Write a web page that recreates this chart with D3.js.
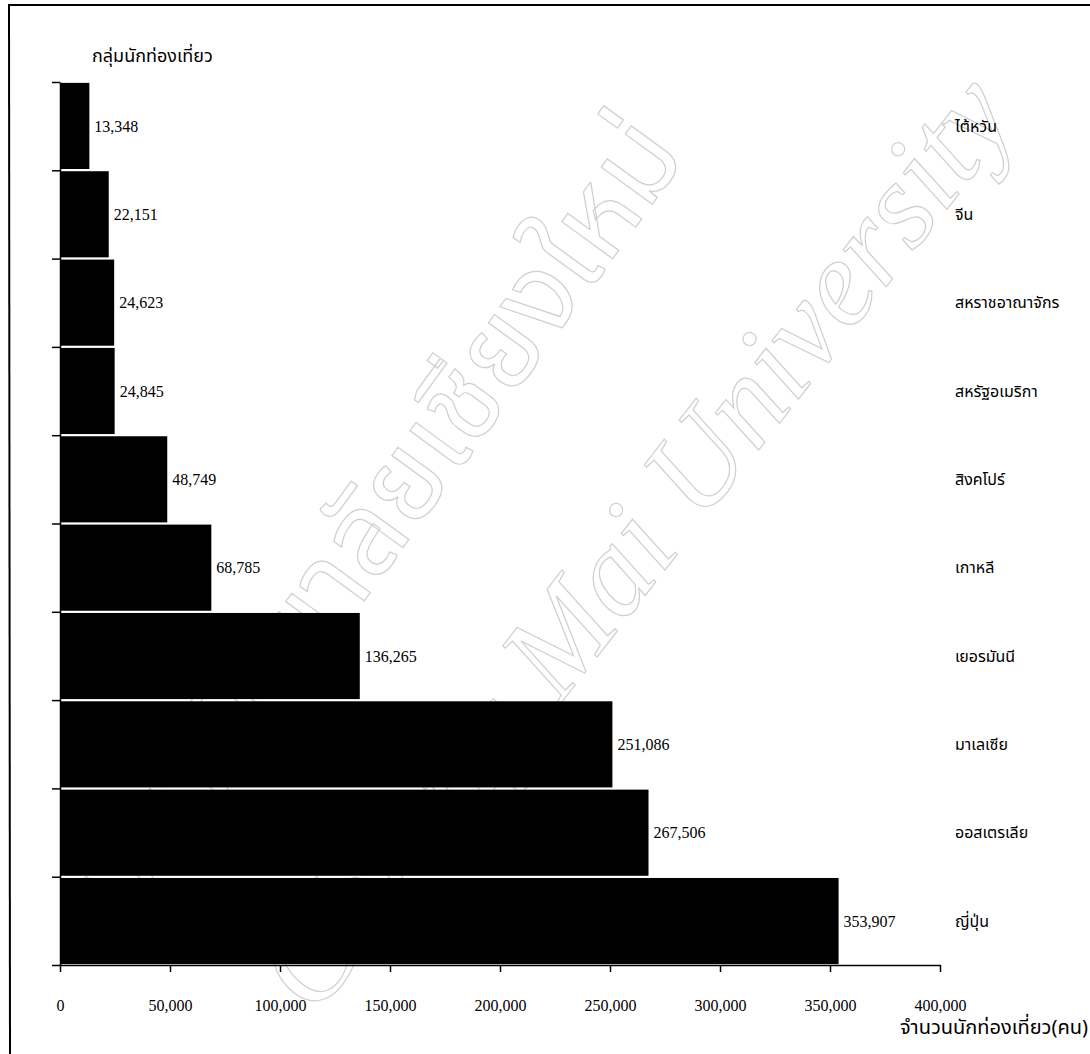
<!DOCTYPE html>
<html>
<head>
<meta charset="utf-8">
<script src="https://cdn.jsdelivr.net/npm/d3@7"></script>
<style>
  body { margin: 0; background: #fff; }
  svg { display: block; }
  text { font-family: "Liberation Serif", "Times New Roman", serif; fill: #000; }
  .thai { font-family: "Noto Sans Thai", "Tahoma", "DejaVu Sans", sans-serif; }
  .wm text { fill: none; stroke: #cfcfcf; stroke-width: 1.2px; }
</style>
</head>
<body>
<script>
const countries = ["ไต้หวัน", "จีน", "สหราชอาณาจักร", "สหรัฐอเมริกา", "สิงคโปร์",
  "เกาหลี", "เยอรมันนี", "มาเลเซีย", "ออสเตรเลีย", "ญี่ปุ่น"];
const visitors = [13348, 22151, 24623, 24845, 48749, 68785, 136265, 251086, 267506, 353907];
const xTicks = [0, 50000, 100000, 150000, 200000, 250000, 300000, 350000, 400000];
const yTitle = "กลุ่มนักท่องเที่ยว";
const xTitle = "จำนวนนักท่องเที่ยว(คน)";

const W = 1090, H = 1054;
const svg = d3.select("body").append("svg")
  .attr("width", W)
  .attr("height", H);

// faint watermark of the scan, drawn first so the bars sit over it
let wm = svg.append("g").attr("class", "wm");
wm.append("text")
  .attr("class", "thai")
  .attr("transform", "translate(125,930) rotate(-54)")
  .attr("font-size", 115)
  .text("มหาวิทยาลัยเชียงใหม่");
wm.append("text")
  .attr("transform", "translate(315,1018) rotate(-52)")
  .attr("font-size", 124)
  .attr("font-style", "italic")
  .text("Chiang Mai University");

// frame lines from the scan
svg.append("line").attr("x1", 8).attr("x2", W).attr("y1", 5).attr("y2", 5)
  .attr("stroke", "#000").attr("stroke-width", 2);
svg.append("line").attr("x1", 9).attr("x2", 10).attr("y1", 5).attr("y2", H)
  .attr("stroke", "#000").attr("stroke-width", 2);

let x = d3.scaleLinear()
  .domain([0, 400000])
  .range([60, 940]);

let y = d3.scaleBand()
  .domain(countries)
  .range([82, 965])
  .paddingInner(0.025)
  .paddingOuter(0.01);

let yEdges = d3.scaleLinear()
  .domain([0, countries.length])
  .range([82, 965]);

// bars
svg.selectAll(".bar")
  .data(countries)
  .enter()
  .append("rect")
  .attr("class", "bar")
  .attr("x", x(0))
  .attr("y", d => y(d))
  .attr("width", (d, i) => x(visitors[i]) - x(0))
  .attr("height", y.bandwidth())
  .attr("fill", "#000");

// y axis: ticks on band edges, no labels
svg.append("g")
  .attr("transform", "translate(" + x(0) + ",0)")
  .call(d3.axisLeft(yEdges).tickValues(d3.range(countries.length + 1)).tickFormat("").tickSize(8).tickSizeOuter(0))
  .call(g => g.selectAll("line, path").attr("stroke", "#000").attr("stroke-width", 1.5));

// x axis
svg.append("g")
  .attr("transform", "translate(0,965)")
  .call(d3.axisBottom(x).tickValues(xTicks).tickFormat(d3.format(",")).tickSize(7).tickSizeOuter(0).tickPadding(28))
  .call(g => g.selectAll("line, path").attr("stroke", "#000").attr("stroke-width", 1.5))
  .call(g => g.selectAll("text")
    .attr("font-family", "Liberation Serif, serif")
    .attr("font-size", 16)
    .attr("fill", "#000"));

// value labels
svg.selectAll(".val")
  .data(countries)
  .enter()
  .append("text")
  .attr("x", (d, i) => x(visitors[i]) + 5)
  .attr("y", d => y(d) + y.bandwidth() / 2)
  .attr("dy", "0.35em")
  .attr("font-size", 16)
  .text((d, i) => d3.format(",")(visitors[i]));

// category names on the right
svg.selectAll(".cat")
  .data(countries)
  .enter()
  .append("text")
  .attr("class", "thai")
  .attr("x", 955)
  .attr("y", d => y(d) + y.bandwidth() / 2)
  .attr("dy", "0.35em")
  .attr("font-size", 16)
  .text(d => d);

// titles
svg.append("text")
  .attr("class", "thai")
  .attr("x", 92)
  .attr("y", 62)
  .attr("font-size", 18)
  .text(yTitle);

svg.append("text")
  .attr("class", "thai")
  .attr("x", 1088)
  .attr("y", 1034)
  .attr("text-anchor", "end")
  .attr("font-size", 20)
  .text(xTitle);
</script>
</body>
</html>
